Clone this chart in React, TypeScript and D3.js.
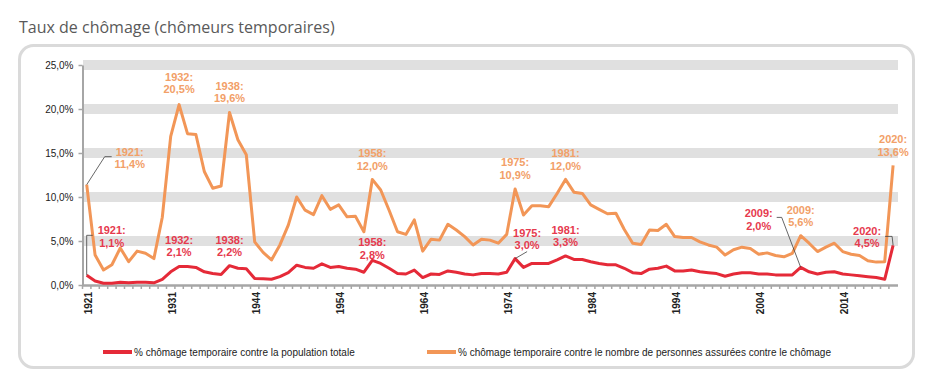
import { useEffect, useRef } from "react";
import * as d3 from "d3";

const WIDTH = 945;
const HEIGHT = 390;

// categories (no data for 1940-1942)
const years = [
  1921, 1922, 1923, 1924, 1925, 1926, 1927, 1928, 1929, 1930,
  1931, 1932, 1933, 1934, 1935, 1936, 1937, 1938, 1939, 1943,
  1944, 1945, 1946, 1947, 1948, 1949, 1950, 1951, 1952, 1953,
  1954, 1955, 1956, 1957, 1958, 1959, 1960, 1961, 1962, 1963,
  1964, 1965, 1966, 1967, 1968, 1969, 1970, 1971, 1972, 1973,
  1974, 1975, 1976, 1977, 1978, 1979, 1980, 1981, 1982, 1983,
  1984, 1985, 1986, 1987, 1988, 1989, 1990, 1991, 1992, 1993,
  1994, 1995, 1996, 1997, 1998, 1999, 2000, 2001, 2002, 2003,
  2004, 2005, 2006, 2007, 2008, 2009, 2010, 2011, 2012, 2013,
  2014, 2015, 2016, 2017, 2018, 2019, 2020,
];

const tickYears = [1921, 1931, 1944, 1954, 1964, 1974, 1984, 1994, 2004, 2014];
const yTicks = [0, 5, 10, 15, 20, 25];

// % chômage temporaire contre la population totale
const popShare = [
  1.1, 0.45, 0.2, 0.2, 0.3, 0.25, 0.3, 0.3, 0.25, 0.65,
  1.5, 2.1, 2.1, 2.0, 1.5, 1.3, 1.2, 2.2, 1.9, 1.85,
  0.75, 0.7, 0.65, 0.95, 1.4, 2.25, 2.0, 1.9, 2.4, 2.0,
  2.1, 1.9, 1.8, 1.45, 2.8, 2.45, 1.9, 1.3, 1.25, 1.7,
  0.85, 1.25, 1.2, 1.6, 1.45, 1.25, 1.15, 1.3, 1.3, 1.25,
  1.45, 3.0, 2.0, 2.45, 2.45, 2.45, 2.85, 3.3, 2.9, 2.9,
  2.65, 2.45, 2.3, 2.3, 1.9, 1.4, 1.3, 1.8, 1.9, 2.15,
  1.6, 1.6, 1.7, 1.5, 1.4, 1.3, 1.0, 1.25, 1.4, 1.4,
  1.25, 1.25, 1.15, 1.15, 1.15, 2.0, 1.5, 1.25, 1.45, 1.5,
  1.25, 1.15, 1.05, 0.95, 0.85, 0.65, 4.5,
];

// % chômage temporaire contre le nombre de personnes assurées contre le chômage
const insuredShare = [
  11.4, 3.4, 1.7, 2.3, 4.2, 2.65, 3.85, 3.6, 3.0, 7.7,
  16.9, 20.5, 17.2, 17.1, 12.9, 11.0, 11.25, 19.6, 16.5, 14.8,
  4.9, 3.7, 2.85, 4.55, 6.8, 10.0, 8.5, 8.0, 10.15, 8.6,
  9.1, 7.75, 7.8, 6.05, 12.0, 10.8, 8.5, 6.05, 5.75, 7.4,
  3.85, 5.2, 5.1, 6.9, 6.25, 5.5, 4.55, 5.2, 5.1, 4.75,
  5.75, 10.9, 7.95, 9.0, 9.0, 8.9, 10.4, 12.0, 10.55, 10.4,
  9.1, 8.6, 8.1, 8.15, 6.3, 4.75, 4.6, 6.25, 6.2, 6.9,
  5.5, 5.4, 5.4, 4.9, 4.55, 4.3, 3.4, 4.0, 4.3, 4.15,
  3.5, 3.65, 3.35, 3.2, 3.6, 5.6, 4.75, 3.8, 4.3, 4.75,
  3.8, 3.5, 3.35, 2.75, 2.6, 2.65, 13.6,
];

type Callout = {
  year: number;
  series: "pop" | "ins";
  dx: number;
  dy: number;
  leader?: [number, number][];
};

const callouts: Callout[] = [
  { year: 1921, series: "ins", dx: 43, dy: -33, leader: [[18, -28], [25, -28]] },
  { year: 1932, series: "ins", dx: 0, dy: -28 },
  { year: 1938, series: "ins", dx: 0, dy: -27 },
  { year: 1958, series: "ins", dx: 0, dy: -26 },
  { year: 1975, series: "ins", dx: 0, dy: -27 },
  { year: 1981, series: "ins", dx: 0, dy: -26 },
  { year: 2009, series: "ins", dx: 0, dy: -26 },
  { year: 2020, series: "ins", dx: 0, dy: -26 },
  { year: 1921, series: "pop", dx: 25, dy: -45, leader: [[0, -40], [6, -40]] },
  { year: 1932, series: "pop", dx: 0, dy: -27 },
  { year: 1938, series: "pop", dx: 0, dy: -26 },
  { year: 1958, series: "pop", dx: 0, dy: -18 },
  { year: 1975, series: "pop", dx: 12, dy: -26, leader: [[12, -7]] },
  { year: 1981, series: "pop", dx: 0, dy: -26 },
  { year: 2009, series: "pop", dx: -42, dy: -54, leader: [[-19, -50], [-24, -50]] },
  { year: 2020, series: "pop", dx: -26, dy: -14.5, leader: [[-1, -9], [-8, -9]] },
];

const RED = "#E52A38";
const ORANGE = "#F29657";
const RED_LABEL = "#E63A4E";
const ORANGE_LABEL = "#F2A068";
const AXIS_GRAY = "#a6a6a6";
const FONT = "'Liberation Sans', Arial, sans-serif";

const fmt = (v: number) => d3.format(".1f")(v).replace(".", ",") + "%";

export default function App() {
  const svgRef = useRef<SVGSVGElement | null>(null);

  useEffect(() => {
    if (!svgRef.current) return;
    const svg = d3.select(svgRef.current);
    svg.selectAll("*").remove();

    // frame + title
    svg
      .append("rect")
      .attr("x", 19.5)
      .attr("y", 45.5)
      .attr("width", 894)
      .attr("height", 322)
      .attr("rx", 14)
      .attr("fill", "#fff")
      .attr("stroke", "#dadada")
      .attr("stroke-width", 3);

    svg
      .append("text")
      .attr("x", 19)
      .attr("y", 33)
      .attr("fill", "#595959")
      .style("font-family", "'Open Sans', sans-serif")
      .style("font-size", "16px")
      .text("Taux de chômage (chômeurs temporaires)");

    const band = d3.scaleBand<number>().domain(years).range([82.5, 897.3]).padding(0);
    const x = (yr: number) => (band(yr) ?? 0) + band.bandwidth() / 2;
    const y = d3.scaleLinear().domain([0, 25]).range([285, 65]);

    // gray grid bands
    svg
      .append("g")
      .selectAll("rect")
      .data(yTicks.filter((t) => t > 0))
      .enter()
      .append("rect")
      .attr("x", 83)
      .attr("width", 815)
      .attr("y", (t: number) => y(t) - 5)
      .attr("height", 10)
      .attr("fill", "#e0e0e0");

    // y axis
    svg
      .append("g")
      .attr("transform", "translate(82.5,0)")
      .call(d3.axisLeft(y).tickValues(yTicks).tickSize(4).tickSizeOuter(0).tickPadding(5).tickFormat((d: any) => fmt(+d)))
      .call((g: any) => {
        g.select(".domain").attr("stroke", AXIS_GRAY).attr("stroke-width", 2);
        g.selectAll("line").attr("stroke", AXIS_GRAY).attr("stroke-width", 1.5);
        g.selectAll("text")
          .attr("fill", "#222")
          .style("font-family", FONT)
          .style("font-size", "10px");
      });

    // x axis
    const xg = svg.append("g");
    xg.append("line")
      .attr("x1", 82)
      .attr("x2", 898)
      .attr("y1", 285.5)
      .attr("y2", 285.5)
      .attr("stroke", AXIS_GRAY)
      .attr("stroke-width", 2.5);
    xg.selectAll("line.tick")
      .data(years)
      .enter()
      .append("line")
      .attr("class", "tick")
      .attr("x1", (d: number) => band(d) ?? 0)
      .attr("x2", (d: number) => band(d) ?? 0)
      .attr("y1", 285)
      .attr("y2", 289)
      .attr("stroke", AXIS_GRAY)
      .attr("stroke-width", 1.5);
    xg.selectAll("text")
      .data(tickYears)
      .enter()
      .append("text")
      .attr("transform", (d: number) => `translate(${x(d) + 5},292) rotate(-90)`)
      .attr("text-anchor", "end")
      .attr("fill", "#222")
      .style("font-family", FONT)
      .style("font-size", "10px")
      .style("font-weight", "bold")
      .text((d: number) => String(d));

    // lines
    const line = d3
      .line<number>()
      .x((_: number, i: number) => x(years[i]))
      .y((v: number) => y(v))
      .curve(d3.curveLinear);

    svg
      .append("path")
      .attr("d", line(insuredShare))
      .attr("fill", "none")
      .attr("stroke", ORANGE)
      .attr("stroke-width", 3)
      .attr("stroke-linejoin", "round");

    svg
      .append("path")
      .attr("d", line(popShare))
      .attr("fill", "none")
      .attr("stroke", RED)
      .attr("stroke-width", 3)
      .attr("stroke-linejoin", "round");

    // callouts
    const cg = svg.append("g");
    callouts.forEach((c) => {
      const i = years.indexOf(c.year);
      const v = c.series === "pop" ? popShare[i] : insuredShare[i];
      const px = x(c.year);
      const py = y(v);
      if (c.leader) {
        const pts: [number, number][] = [[px, py], ...c.leader.map(([dx, dy]) => [px + dx, py + dy] as [number, number])];
        cg.append("path")
          .attr("d", d3.line()(pts))
          .attr("fill", "none")
          .attr("stroke", "#404040")
          .attr("stroke-width", 0.8);
      }
      const t = cg
        .append("text")
        .attr("text-anchor", "middle")
        .attr("fill", c.series === "pop" ? RED_LABEL : ORANGE_LABEL)
        .style("font-family", FONT)
        .style("font-size", "11px")
        .style("font-weight", "bold");
      t.append("tspan").attr("x", px + c.dx).attr("y", py + c.dy + 4).text(`${c.year}:`);
      t.append("tspan").attr("x", px + c.dx).attr("y", py + c.dy + 16.5).text(fmt(v));
    });

    // legend
    const legendItems = [
      { label: "% chômage temporaire contre la population totale", color: RED, x: 103 },
      { label: "% chômage temporaire contre le nombre de personnes assurées contre le chômage", color: ORANGE, x: 427 },
    ];
    const lg = svg.append("g").attr("transform", "translate(0,352)");
    legendItems.forEach((it) => {
      lg.append("line")
        .attr("x1", it.x)
        .attr("x2", it.x + 29)
        .attr("stroke", it.color)
        .attr("stroke-width", 4);
      lg.append("text")
        .attr("x", it.x + 31)
        .attr("y", 3.5)
        .attr("fill", "#222")
        .style("font-family", FONT)
        .style("font-size", "10px")
        .text(it.label);
    });
  }, []);

  return (
    <svg
      ref={svgRef}
      width={WIDTH}
      height={HEIGHT}
      style={{ position: "absolute", left: 0, top: 0, display: "block", background: "#fff" }}
    />
  );
}
